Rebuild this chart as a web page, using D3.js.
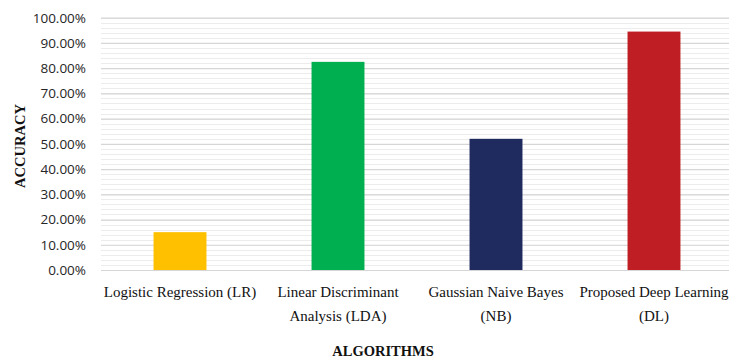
<!DOCTYPE html>
<html>
<head>
<meta charset="utf-8">
<script src="https://cdn.jsdelivr.net/npm/d3@7"></script>
<style>
  html, body { margin: 0; padding: 0; background: #fff; }
  svg { display: block; }
</style>
</head>
<body>
<svg id="chart" width="729" height="362"></svg>
<script>
// Classifier accuracy comparison
const categories = [
  ["Logistic Regression (LR)"],
  ["Linear Discriminant", "Analysis (LDA)"],
  ["Gaussian Naive Bayes", "(NB)"],
  ["Proposed Deep Learning", "(DL)"]
];
const accuracy = [0.15, 0.825, 0.52, 0.945];
const barColors = ["#FFC000", "#00B050", "#1F2A5E", "#BF1E24"];
const yTicks = [0, 0.1, 0.2, 0.3, 0.4, 0.5, 0.6, 0.7, 0.8, 0.9, 1.0];
const yMinorTicks = d3.range(0, 1.0001, 0.02);

const svg = d3.select("#chart");
const margin = { left: 101, right: -4, top: 17.7, bottom: 92 };
const W = 729, H = 362;

const x = d3.scaleBand()
  .domain(d3.range(categories.length))
  .range([margin.left, W - margin.right])
  .paddingInner(0.665)
  .paddingOuter(0.3325);

const y = d3.scaleLinear().domain([0, 1]).range([H - margin.bottom, margin.top]);

// minor gridlines
svg.append("g")
  .selectAll("line")
  .data(yMinorTicks)
  .join("line")
  .attr("x1", margin.left).attr("x2", W)
  .attr("y1", d => Math.round(y(d)) + 0.5).attr("y2", d => Math.round(y(d)) + 0.5)
  .attr("stroke", "#ececec").attr("stroke-width", 1);

// major gridlines + tick labels via axis
const yAxis = d3.axisLeft(y)
  .tickValues(yTicks)
  .tickSize(-(W - margin.left))
  .tickPadding(15)
  .tickFormat(d => (d * 100).toFixed(2) + "%");

const gy = svg.append("g")
  .attr("transform", `translate(${margin.left},0)`)
  .call(yAxis);
gy.select(".domain").remove();
gy.selectAll(".tick line").attr("stroke", "#d6d6d6").attr("stroke-width", 1.2);
gy.selectAll(".tick text")
  .attr("fill", "#262626")
  .style("font-family", "'Open Sans', 'Liberation Sans', sans-serif")
  .style("font-size", "13.5px");

// bars
svg.append("g")
  .selectAll("rect")
  .data(accuracy)
  .join("rect")
  .attr("x", (d, i) => x(i))
  .attr("width", x.bandwidth())
  .attr("y", d => y(d))
  .attr("height", d => y(0) - y(d))
  .attr("fill", (d, i) => barColors[i]);

// category labels
const catG = svg.append("g")
  .style("font-family", "'Liberation Serif', 'Times New Roman', serif")
  .style("font-size", "15px")
  .attr("fill", "#111");
categories.forEach((lines, i) => {
  const t = catG.append("text")
    .attr("x", x(i) + x.bandwidth() / 2)
    .attr("y", 297)
    .attr("text-anchor", "middle");
  lines.forEach((ln, j) => {
    t.append("tspan")
      .attr("x", x(i) + x.bandwidth() / 2)
      .attr("dy", j === 0 ? 0 : 24)
      .text(ln);
  });
});

// axis titles
svg.append("text")
  .attr("x", 383).attr("y", 356)
  .attr("text-anchor", "middle")
  .style("font-family", "'Liberation Serif', 'Times New Roman', serif")
  .style("font-size", "14.5px")
  .style("font-weight", "bold")
  .attr("fill", "#111")
  .text("ALGORITHMS");

svg.append("text")
  .attr("transform", `translate(25,146) rotate(-90)`)
  .attr("text-anchor", "middle")
  .style("font-family", "'Liberation Serif', 'Times New Roman', serif")
  .style("font-size", "14.5px")
  .style("font-weight", "bold")
  .attr("fill", "#111")
  .text("ACCURACY");
</script>
</body>
</html>
